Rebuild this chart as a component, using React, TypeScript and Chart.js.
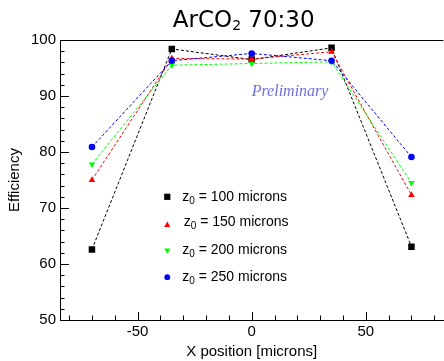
import React, { useEffect, useRef } from 'react';
import { Chart, registerables } from 'chart.js';
import { drawPoint } from 'chart.js/helpers';

Chart.register(...registerables);

// ---- data ----
const xPositions = [-70, -35, 0, 35, 70];
const eff100 = [62.6, 98.4, 96.5, 98.6, 63.1];
const eff150 = [75.0, 96.7, 96.6, 97.9, 72.3];
const eff200 = [77.8, 95.5, 95.8, 96.1, 74.5];
const eff250 = [80.9, 96.3, 97.6, 96.3, 79.1];
const seriesLabels = ['z₀ = 100 microns', 'z₀ = 150 microns', 'z₀ = 200 microns', 'z₀ = 250 microns'];
const xMajorTicks = [-50, 0, 50];
const yMajorTicks = [50, 60, 70, 80, 90, 100];
const titleParts = ['ArCO', '2', ' 70:30'];
const xTitle = 'X position [microns]';
const yTitle = 'Efficiency';
const watermark = 'Preliminary';

const SANS = '"Liberation Sans", Arial, Helvetica, sans-serif';
const TITLE_FONT = '"DejaVu Sans", sans-serif';

const seriesStyle = [
  { color: '#000000', pointStyle: 'rect', radius: 4.6, rotation: 0, legendRadius: 4.4 },
  { color: '#ff0000', pointStyle: 'triangle', radius: 3.8, rotation: 0, legendRadius: 3.6 },
  { color: '#00ff00', pointStyle: 'triangle', radius: 3.8, rotation: 180, legendRadius: 3.6 },
  { color: '#0000ff', pointStyle: 'circle', radius: 3.3, rotation: 0, legendRadius: 2.9 },
];

const titlePlugin = {
  id: 'rootTitle',
  afterDraw(chart: any) {
    const { ctx } = chart;
    ctx.save();
    ctx.fillStyle = '#000';
    ctx.textBaseline = 'alphabetic';
    ctx.textAlign = 'left';
    const big = `23px ${TITLE_FONT}`;
    const small = `14px ${TITLE_FONT}`;
    ctx.font = big;
    const w0 = ctx.measureText(titleParts[0]).width;
    const w2 = ctx.measureText(titleParts[2]).width;
    ctx.font = small;
    const w1 = ctx.measureText(titleParts[1]).width;
    const total = w0 + w1 + w2;
    const centerX = chart.scales.x.getPixelForValue(-3.5);
    let cx = centerX - total / 2;
    const base = 27;
    ctx.font = big;
    ctx.fillText(titleParts[0], cx, base);
    cx += w0;
    ctx.font = small;
    ctx.fillText(titleParts[1], cx, base + 3);
    cx += w1;
    ctx.font = big;
    ctx.fillText(titleParts[2], cx, base);
    ctx.restore();
  },
};

const frameAndTicks = {
  id: 'frameAndTicks',
  beforeDatasetsDraw(chart: any) {
    const { ctx, chartArea: a, scales } = chart;
    const x = scales.x;
    const y = scales.y;
    ctx.save();
    ctx.strokeStyle = '#000';
    ctx.lineWidth = 1;
    ctx.beginPath();
    ctx.moveTo(a.left, a.top + 0.5);
    ctx.lineTo(a.right, a.top + 0.5);
    for (let v = -80; v <= 80; v += 10) {
      const px = Math.round(x.getPixelForValue(v)) + 0.5;
      const major = v % 50 === 0;
      ctx.moveTo(px, a.bottom);
      ctx.lineTo(px, a.bottom - (major ? 8 : 4.5));
    }
    for (let v = 50; v <= 100; v += 2) {
      const py = Math.round(y.getPixelForValue(v)) + 0.5;
      const major = v % 10 === 0;
      ctx.moveTo(a.left, py);
      ctx.lineTo(a.left + (major ? 9 : 4.5), py);
    }
    ctx.stroke();
    // watermark
    ctx.font = 'italic 16px "Liberation Serif", "Times New Roman", serif';
    ctx.fillStyle = 'rgb(112,112,222)';
    ctx.textAlign = 'left';
    ctx.textBaseline = 'middle';
    ctx.fillText(watermark, x.getPixelForValue(0), y.getPixelForValue(90.7));
    ctx.restore();
  },
};

const innerLegend = {
  id: 'innerLegend',
  afterDatasetsDraw(chart: any) {
    const { ctx } = chart;
    const x = chart.scales.x;
    const y = chart.scales.y;
    const mx = x.getPixelForValue(-37);
    const tx = mx + 15;
    const y0 = y.getPixelForValue(72.0);
    const step = 26.8;
    ctx.save();
    chart.data.datasets.forEach((ds: any, i: number) => {
      const st = seriesStyle[i];
      const cy = y0 + i * step;
      ctx.fillStyle = st.color;
      ctx.strokeStyle = st.color;
      drawPoint(ctx, { pointStyle: st.pointStyle, radius: st.legendRadius, rotation: st.rotation, borderWidth: 0 } as any, mx, cy + (i === 1 ? 1.5 : 0));
      const parts = String(ds.label).split('₀');
      ctx.fillStyle = '#000';
      ctx.textBaseline = 'middle';
      ctx.textAlign = 'left';
      ctx.font = `14px ${SANS}`;
      let cx = tx + (i === 1 ? 1.5 : 0);
      const ty = cy - (i === 1 ? 1 : 0);
      ctx.fillText(parts[0], cx, ty);
      cx += ctx.measureText(parts[0]).width;
      ctx.font = `10px ${SANS}`;
      ctx.fillText('0', cx, ty + 4);
      cx += ctx.measureText('0').width;
      ctx.font = `14px ${SANS}`;
      ctx.fillText(parts[1] || '', cx, ty);
    });
    ctx.restore();
  },
};

export default function App() {
  const ref = useRef<HTMLCanvasElement | null>(null);
  useEffect(() => {
    if (!ref.current) return;
    const seriesValues = [eff100, eff150, eff200, eff250];
    const chart = new Chart(ref.current, {
      type: 'line',
      data: {
        datasets: seriesValues.map((vals, i) => ({
          label: seriesLabels[i],
          data: xPositions.map((xv, j) => ({ x: xv, y: vals[j] })),
          borderColor: seriesStyle[i].color,
          backgroundColor: seriesStyle[i].color,
          borderWidth: 1,
          borderDash: [3, 2],
          pointStyle: seriesStyle[i].pointStyle as any,
          pointRadius: seriesStyle[i].radius,
          pointRotation: seriesStyle[i].rotation,
          pointBorderWidth: 0,
          pointBackgroundColor: seriesStyle[i].color,
          tension: 0,
          fill: false,
          order: 4 - i,
        })),
      },
      options: {
        animation: false,
        responsive: false,
        devicePixelRatio: 1,
        layout: { padding: { left: 0, right: 0, top: 40, bottom: 0 } },
        plugins: {
          legend: { display: false },
          tooltip: { enabled: false },
          title: { display: false },
        },
        scales: {
          x: {
            type: 'linear',
            min: -84,
            max: 84,
            afterBuildTicks: (s: any) => { s.ticks = xMajorTicks.map((v) => ({ value: v })); },
            afterFit: (s: any) => { s.height = 41; },
            grid: { display: false, drawTicks: false },
            border: { display: true, color: '#000', width: 1 },
            ticks: { color: '#000', font: { family: SANS, size: 15 }, padding: 3, maxRotation: 0 },
            title: { display: true, text: xTitle, color: '#000', font: { family: SANS, size: 15 }, padding: { top: 0, bottom: 0 } },
          },
          y: {
            type: 'linear',
            min: 50,
            max: 100,
            afterBuildTicks: (s: any) => { s.ticks = yMajorTicks.map((v) => ({ value: v })); },
            afterFit: (s: any) => { s.width = 60; },
            grid: { display: false, drawTicks: false },
            border: { display: true, color: '#000', width: 1 },
            ticks: { color: '#000', font: { family: SANS, size: 15 }, padding: 4 },
            title: { display: true, text: yTitle, color: '#000', font: { family: SANS, size: 15 }, padding: { top: 6, bottom: 0 } },
          },
        },
      },
      plugins: [frameAndTicks, innerLegend, titlePlugin],
    });
    return () => chart.destroy();
  }, []);
  return (
    <div style={{ position: 'fixed', left: 0, top: 0, width: 448, height: 361, background: '#fff', overflow: 'hidden' }}>
      <canvas ref={ref} width={448} height={361} style={{ display: 'block' }} />
    </div>
  );
}
